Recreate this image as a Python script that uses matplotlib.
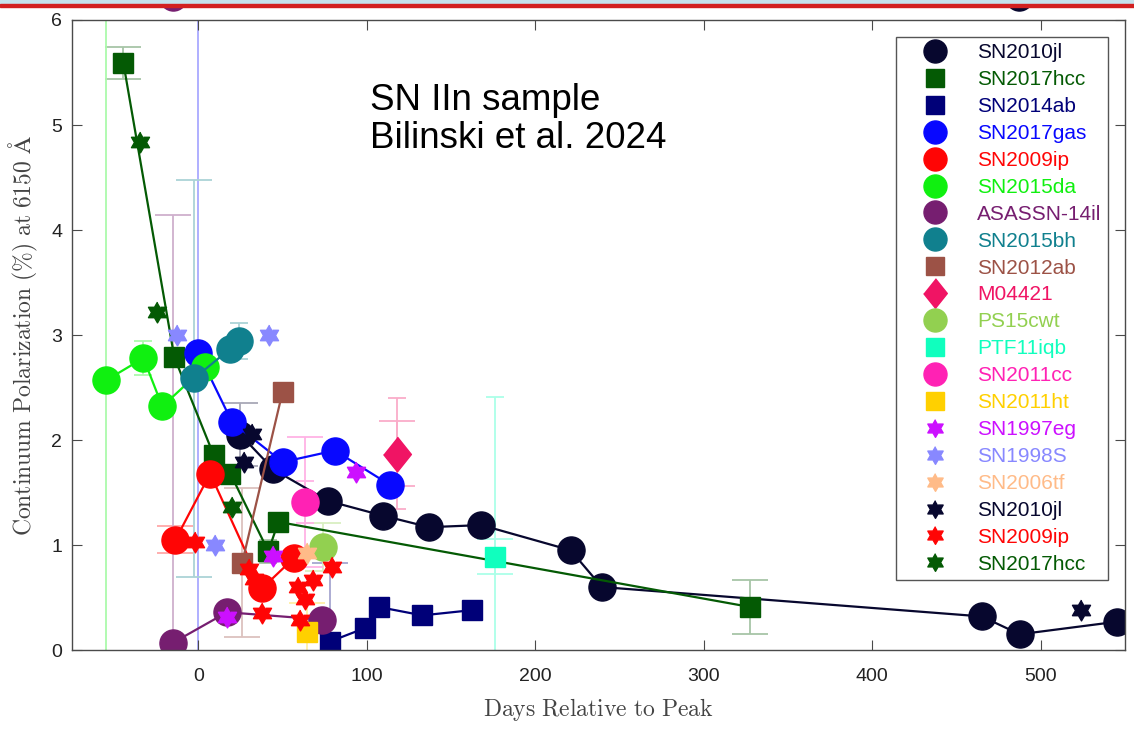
import numpy as np
import matplotlib
matplotlib.use("Agg")
import matplotlib.pyplot as plt
from matplotlib.lines import Line2D
from matplotlib.patches import Rectangle
from matplotlib.colors import to_rgb

plt.rcParams['font.family'] = ['Liberation Sans', 'DejaVu Sans']
plt.rcParams['mathtext.fontset'] = 'cm'

# ---- values (days since peak, polarization %, 1-sigma) ----
jl_days = [25, 44.5, 77, 109.5, 137, 168, 221, 239.5, 465, 487.5, 545.5]
jl_pol = [2.05, 1.72, 1.42, 1.28, 1.17, 1.19, 0.95, 0.60, 0.32, 0.15, 0.27]
jl_err = [0.30, 0, 0, 0, 0, 0, 0, 0, 0, 0, 0]
jl_off_days = [487]
jl_off_pol = [6.22]

hcc_days = [-44.5, -14.3, 9, 19, 41.5, 47.5, 327.5]
hcc_pol = [5.59, 2.79, 1.86, 1.68, 0.94, 1.22, 0.41]
hcc_err = [0.15, 0, 0, 0, 0, 0, 0.26]
hcc_err_n = [0, 0, 0, 0, 0.11, 0, 0]

ab14_days = [78, 99, 107, 133, 162.5]
ab14_pol = [0.08, 0.21, 0.41, 0.33, 0.38]
ab14_err = [0.75, 0, 0, 0, 0]

gas_days = [0, 20, 50, 81, 114]
gas_pol = [2.83, 2.17, 1.79, 1.90, 1.57]
gas_err = [4.0, 0, 0, 0, 0]

ip_days = [-13.6, 7, 38, 57]
ip_pol = [1.05, 1.68, 0.59, 0.88]
ip_err = [0.13, 0, 0, 0]

da_days = [-54.6, -32.6, -21.4, 4.2]
da_pol = [2.57, 2.78, 2.32, 2.70]
da_err = [4.0, 0, 0, 0]
da_err_n = [0, 0.16, 0, 0]

il_days = [-15, 17, 73.5]
il_pol = [0.07, 0.36, 0.29]
il_err = [4.07, 0, 0]
il_off_days = [-15]
il_off_pol = [6.22]

bh_days = [-2.3, 19, 24]
bh_pol = [2.59, 2.87, 2.94]
bh_err = [1.89, 0, 0]
bh_err_n = [0, 0, 0.17]

ab12_days = [26, 50]
ab12_pol = [0.83, 2.46]
ab12_err = [0.71, 0]

m044_days = [118]
m044_pol = [1.87]
m044_err = [0.31]
m044_err_n = [0.53]

cwt_days = [74]
cwt_pol = [0.98]
cwt_err = [0.23]

iqb_days = [176]
iqb_pol = [0.89]
iqb_err = [0.17]
iqb_err_n = [1.52]

cc_days = [63.5]
cc_pol = [1.41]
cc_err = [0.62]
cc_err_n = [0.20]

ht_days = [64.5]
ht_pol = [0.17]
ht_err = [0.28]

eg_days = [17, 44.5, 93.7]
eg_pol = [0.31, 0.90, 1.70]

s98_days = [-12.5, 10, 42]
s98_pol = [3.0, 1.0, 3.0]

tf_days = [64.5]
tf_pol = [0.92]

jl_star_days = [27, 32, 524]
jl_star_pol = [1.79, 2.06, 0.38]

ip_star_days = [-2, 30, 33, 38, 59, 60.5, 63.5, 68, 79.5]
ip_star_pol = [1.03, 0.77, 0.68, 0.35, 0.60, 0.29, 0.49, 0.67, 0.79]

hcc_star_days = [-34.4, -24.3, 20]
hcc_star_pol = [4.84, 3.22, 1.36]

# ---- marker shapes ----
ang = np.pi / 2 + np.arange(12) * np.pi / 6
rad = np.where(np.arange(12) % 2 == 0, 1.0, 1 / np.sqrt(3))
HEX = list(zip(rad * np.cos(ang), rad * np.sin(ang)))
DIAM = [(0, 1), (0.8, 0), (0, -1), (-0.8, 0)]

# label, x, y, wide-cap err, narrow-cap err, colour, marker, size, connect
series = [
    ('SN2010jl', jl_days, jl_pol, jl_err, None, '#07072e', 'o', 19.5, True),
    ('SN2017hcc', hcc_days, hcc_pol, hcc_err, hcc_err_n, '#045a04', 's', 14.5, True),
    ('SN2014ab', ab14_days, ab14_pol, ab14_err, None, '#000078', 's', 14.5, True),
    ('SN2017gas', gas_days, gas_pol, gas_err, None, '#0808ff', 'o', 19.5, True),
    ('SN2009ip', ip_days, ip_pol, ip_err, None, '#ff0505', 'o', 19.5, True),
    ('SN2015da', da_days, da_pol, da_err, da_err_n, '#10f010', 'o', 19.5, True),
    ('ASASSN-14il', il_days, il_pol, il_err, None, '#761e70', 'o', 19.5, True),
    ('SN2015bh', bh_days, bh_pol, bh_err, bh_err_n, '#10808e', 'o', 19.5, True),
    ('SN2012ab', ab12_days, ab12_pol, ab12_err, None, '#9c5246', 's', 14.5, True),
    ('M04421', m044_days, m044_pol, m044_err, m044_err_n, '#f01464', DIAM, 25, False),
    ('PS15cwt', cwt_days, cwt_pol, cwt_err, None, '#92d050', 'o', 19.5, False),
    ('PTF11iqb', iqb_days, iqb_pol, iqb_err, iqb_err_n, '#10ffbe', 's', 14.5, False),
    ('SN2011cc', cc_days, cc_pol, cc_err, cc_err_n, '#ff22b4', 'o', 19.5, False),
    ('SN2011ht', ht_days, ht_pol, ht_err, None, '#ffd000', 's', 14.5, False),
    ('SN1997eg', eg_days, eg_pol, None, None, '#cc10ff', HEX, 15, False),
    ('SN1998S', s98_days, s98_pol, None, None, '#8888ff', HEX, 15, False),
    ('SN2006tf', tf_days, tf_pol, None, None, '#ffbb88', HEX, 15, False),
    ('SN2010jl', jl_star_days, jl_star_pol, None, None, '#07072e', HEX, 15, False),
    ('SN2009ip', ip_star_days, ip_star_pol, None, None, '#ff0505', HEX, 15, False),
    ('SN2017hcc', hcc_star_days, hcc_star_pol, None, None, '#045a04', HEX, 15, False),
]


def faded(c, a=0.35):
    r = np.array(to_rgb(c))
    return tuple(r * a + (1 - a))


fig = plt.figure(figsize=(11.34, 7.38), dpi=100)
ax = fig.add_axes([0.0635, 0.1192, 0.9285, 0.8537])

# error bars underneath everything
for lab, x, y, e, en, col, mk, ms, conn in series:
    for errs, cap in ((e, 13), (en, 6.5)):
        if errs is None:
            continue
        x = np.asarray(x, float)
        y = np.asarray(y, float)
        errs = np.asarray(errs, float)
        keep = errs > 0
        if keep.any():
            ax.errorbar(x[keep], y[keep], yerr=errs[keep], fmt='none',
                        ecolor=faded(col), elinewidth=1.3, capsize=cap,
                        capthick=1.3, zorder=1)

handles = []
for i, (lab, x, y, e, en, col, mk, ms, conn) in enumerate(series):
    ax.plot(x, y, linestyle='-' if conn else 'none', color=col, lw=1.6,
            marker=mk, markersize=ms, markerfacecolor=col,
            markeredgecolor=col, markeredgewidth=1, zorder=2 + i * 0.01)
    handles.append(Line2D([], [], linestyle='none', marker=mk,
                          markersize=ms * 0.85, markerfacecolor=col,
                          markeredgecolor=col, label=lab))

# points above the plotted range, drawn over the frame as in the original
ax.plot(jl_off_days, jl_off_pol, 'o', color='#07072e', markersize=19.5,
        clip_on=False, zorder=5)
ax.plot(il_off_days, il_off_pol, 'o', color='#761e70', markersize=19.5,
        clip_on=False, zorder=5)

ax.set_xlim(-75, 550)
ax.set_ylim(0, 6)
ax.set_xticks([0, 100, 200, 300, 400, 500])
ax.set_yticks([0, 1, 2, 3, 4, 5, 6])
for s in ax.spines.values():
    s.set_color('#4a4a4a')
    s.set_linewidth(1.0)
ax.tick_params(direction='in', length=7, top=True, right=True,
               color='#4a4a4a', labelsize=14, labelcolor='#222222')
ax.tick_params(axis='x', pad=13)
ax.tick_params(axis='y', pad=7)

ax.set_xlabel(r'$\mathrm{Days\ Relative\ to\ Peak}$', fontsize=17,
              color='#444444', labelpad=8)
ax.set_ylabel(r'$\mathrm{Continuum\ Polarization\ (\%)\ at\ 6150\ \AA}$',
              fontsize=17, color='#444444', labelpad=8)

ax.text(0.283, 0.900, 'SN IIn sample\nBilinski et al. 2024',
        transform=ax.transAxes, fontsize=26.5, va='top', ha='left',
        linespacing=1.1, color='black')

leg = ax.legend(handles=handles, loc='upper right',
                bbox_to_anchor=(1108 / 1134, 1 - 37 / 738),
                bbox_transform=fig.transFigure, borderaxespad=0,
                fontsize=15, labelspacing=0.38, handlelength=3.17,
                handletextpad=0.43, borderpad=0.3, fancybox=False,
                framealpha=1, edgecolor='#555555',
                labelcolor=[s[5] for s in series])
leg.get_frame().set_linewidth(1.0)
leg.set_zorder(10)

# the thin band at the top edge of the screenshot
fig.patches.append(Rectangle((0, 1 - 4.5 / 738), 1, 4.5 / 738,
                             transform=fig.transFigure, color='#c6e2ec',
                             zorder=20))
fig.patches.append(Rectangle((0, 1 - 6.5 / 738), 1, 2 / 738,
                             transform=fig.transFigure, color='#d22020',
                             zorder=20))

fig.savefig('out.png', dpi=100)
